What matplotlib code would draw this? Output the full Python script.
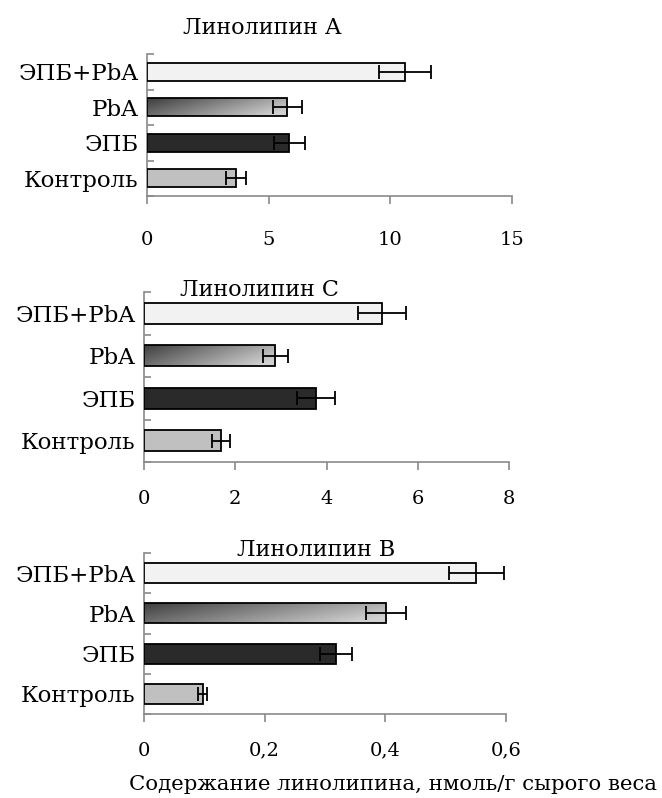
import numpy as np
import matplotlib
matplotlib.use('Agg')
import matplotlib.pyplot as plt

plt.rcParams['font.family'] = ['DejaVu Serif']

groups = ['Контроль', 'ЭПБ', 'PbA', 'ЭПБ+PbA']
colors = ['#c0c0c0', '#2a2a2a', None, '#f2f2f2']   # None -> gradient fill

titles = ['Линолипин А', 'Линолипин С', 'Линолипин В']

lin_a = [3.65, 5.84, 5.76, 10.6]
lin_a_err = [0.42, 0.64, 0.6, 1.07]
lin_c = [1.69, 3.77, 2.88, 5.22]
lin_c_err = [0.19, 0.42, 0.28, 0.53]
lin_b = [0.097, 0.318, 0.401, 0.551]
lin_b_err = [0.007, 0.026, 0.033, 0.045]

xticks_a = [0, 5, 10, 15]
xticks_c = [0, 2, 4, 6, 8]
xticks_b = [0, 0.2, 0.4, 0.6]
xticklabels_b = ['0', '0,2', '0,4', '0,6']

xlabel = 'Содержание линолипина, нмоль/г сырого веса'

W, H = 662, 798
fig = plt.figure(figsize=(W / 100, H / 100), dpi=100)

# panel boxes in pixels: left, right, top, bottom
boxes = [(147, 512, 54, 196), (144, 509, 292, 462), (144, 506, 553, 714)]
title_pos = [(262, 28), (259, 290), (316, 550)]
tick_pads = [19, 14, 14]
panels = [(lin_a, lin_a_err, xticks_a, [str(t) for t in xticks_a]),
          (lin_c, lin_c_err, xticks_c, [str(t) for t in xticks_c]),
          (lin_b, lin_b_err, xticks_b, xticklabels_b)]

# diagonal gray gradient for the PbA bar
gx, gy = np.meshgrid(np.linspace(0, 1, 200), np.linspace(0, 1, 20))
grad = np.clip(0.24 + 0.55 * (0.8 * gx + 0.35 * gy), 0, 0.82)

gray = '#8a8a8a'
for (L, R, T, B), (vals, errs, xt, xtl), title, (tx, ty), tp in zip(
        boxes, panels, titles, title_pos, tick_pads):
    ax = fig.add_axes([L / W, 1 - B / H, (R - L) / W, (B - T) / H])
    y = np.arange(len(groups))
    for i in range(len(groups)):
        if colors[i] is None:
            bar = ax.barh(y[i], vals[i], height=0.5, color='none', edgecolor='black',
                          linewidth=1.3, zorder=3)[0]
            x0, y0 = bar.get_x(), bar.get_y()
            im = ax.imshow(grad, cmap='gray', vmin=0, vmax=1, aspect='auto',
                           extent=[x0, x0 + bar.get_width(), y0, y0 + bar.get_height()],
                           zorder=2, interpolation='bilinear')
            im.set_clip_path(bar)
        else:
            ax.barh(y[i], vals[i], height=0.5, color=colors[i], edgecolor='black',
                    linewidth=1.3, zorder=3)
    ax.errorbar(vals, y, xerr=errs, fmt='none', ecolor='black', elinewidth=1.3,
                capsize=5, capthick=1.3, zorder=4)

    ax.set_xlim(xt[0], xt[-1])
    ax.set_ylim(-0.5, len(groups) - 0.5)
    ax.set_xticks(xt)
    ax.set_xticklabels(xtl, fontsize=14)
    ax.set_yticks(y)
    ax.set_yticklabels(groups, fontsize=16.5)
    ax.set_yticks(np.arange(len(groups) + 1) - 0.5, minor=True)
    ax.tick_params(axis='y', which='major', length=0, pad=6)
    ax.tick_params(axis='y', which='minor', direction='in', length=5, color=gray, width=1.2)
    ax.tick_params(axis='x', direction='out', length=6, color=gray, width=1.2, pad=tp)
    for s in ['top', 'right']:
        ax.spines[s].set_visible(False)
    for s in ['left', 'bottom']:
        ax.spines[s].set_color(gray)
        ax.spines[s].set_linewidth(1.2)
    fig.text(tx / W, 1 - ty / H, title, ha='center', va='center', fontsize=16)

fig.text(393 / W, 1 - 785 / H, xlabel, ha='center', va='center', fontsize=15.3)

fig.savefig('out.png', dpi=100)
